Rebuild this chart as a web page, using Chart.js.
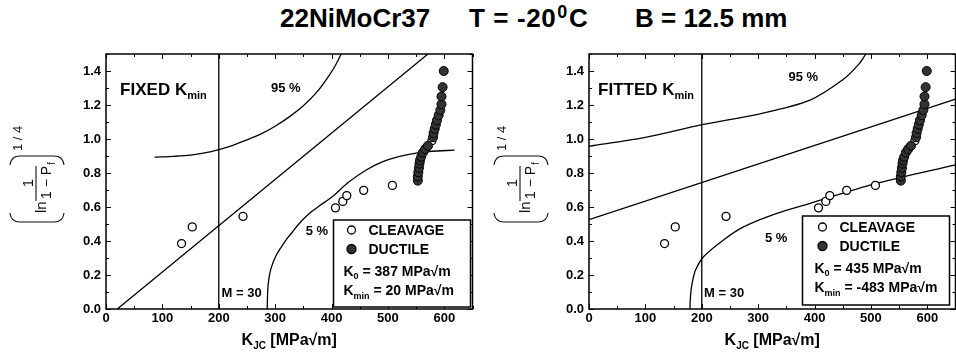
<!DOCTYPE html>
<html>
<head>
<meta charset="utf-8">
<script src="https://cdn.jsdelivr.net/npm/chart.js@4.4.1/dist/chart.umd.min.js"></script>
<style>
  body { margin: 0; background: #fff; }
  #page { position: relative; width: 956px; height: 355px; overflow: hidden; font-family: "Liberation Sans", Arial, sans-serif; }
  .ttl { position: absolute; top: 5px; font-size: 26px; line-height: 26px; font-weight: bold; white-space: pre; color: #000; }
  .ttl sup { font-size: 18px; line-height: 0; vertical-align: 9px; margin: 0 1px; }
  .panel { position: absolute; top: 40px; width: 478px; height: 315px; }
</style>
</head>
<body>
<div id="page">
  <div class="ttl" style="left:280px">22NiMoCr37</div>
  <div class="ttl" style="left:469px;letter-spacing:0.6px">T = -20<sup>0</sup>C</div>
  <div class="ttl" style="left:635px">B = 12.5 mm</div>
  <div class="panel" style="left:0"><canvas id="left" width="478" height="315"></canvas></div>
  <div class="panel" style="left:483px"><canvas id="right" width="478" height="315"></canvas></div>
</div>
<script>
// measured specimens (same set in both panels)
const cleavageK = [134, 153, 243, 407, 420, 427, 457, 508, 578];
const cleavageY = [0.385, 0.483, 0.545, 0.595, 0.633, 0.667, 0.698, 0.727, 0.99];
const ductileK = [553, 553, 554, 555, 556, 557, 559, 562, 566, 571, 580, 581, 583, 585, 587, 590, 593, 595, 595, 597, 599];
const ductileY = [0.755, 0.78, 0.805, 0.83, 0.855, 0.875, 0.895, 0.92, 0.94, 0.96, 1.01, 1.035, 1.06, 1.085, 1.11, 1.14, 1.17, 1.205, 1.25, 1.305, 1.40];

// left panel (fixed Kmin) curves
const fixMedK = [20, 571];
const fixMedY = [0, 1.5];
const fix95K = [86, 120, 150, 175, 200, 225, 250, 275, 300, 325, 350, 375, 395, 408, 417];
const fix95Y = [0.893, 0.898, 0.905, 0.918, 0.938, 0.963, 0.995, 1.03, 1.075, 1.13, 1.195, 1.28, 1.37, 1.44, 1.5];
const fix5K = [286, 286.3, 287, 289, 292, 296, 301, 310, 320, 330, 342, 360, 380, 401, 430, 460, 490, 519, 550, 577, 618];
const fix5Y = [0, 0.06, 0.12, 0.18, 0.23, 0.27, 0.31, 0.36, 0.41, 0.45, 0.5, 0.56, 0.61, 0.66, 0.745, 0.815, 0.865, 0.896, 0.917, 0.928, 0.934];

// right panel (fitted Kmin) curves
const fitMedK = [0, 650];
const fitMedY = [0.526, 1.234];
const fit95K = [0, 98, 203, 303, 391, 450, 479, 491];
const fit95Y = [0.957, 1.008, 1.086, 1.148, 1.227, 1.348, 1.442, 1.5];
const fit5K = [179, 179.5, 181, 184, 189, 203, 238, 274, 332, 391, 508, 650];
const fit5Y = [0, 0.05, 0.11, 0.17, 0.229, 0.307, 0.405, 0.483, 0.561, 0.62, 0.737, 0.848];

// vertical line M = 30
const limitK = [200, 200];
const limitY = [0, 1.5];

const FONT = '"Liberation Sans", Arial, sans-serif';

function pts(xs, ys) {
  return xs.map((x, i) => ({ x: x, y: ys[i] }));
}

function curve(xs, ys) {
  return { data: pts(xs, ys), showLine: true, borderColor: '#000', borderWidth: 1.3, pointRadius: 0, tension: 0.3, order: 3 };
}

// text with a subscript part, returns end x
function subText(ctx, x, y, main, sub, size, subSize, drop, rest) {
  ctx.font = `bold ${size}px ${FONT}`;
  ctx.fillText(main, x, y);
  x += ctx.measureText(main).width;
  ctx.font = `bold ${subSize}px ${FONT}`;
  ctx.fillText(sub, x, y + drop);
  x += ctx.measureText(sub).width;
  if (rest) {
    ctx.font = `bold ${size}px ${FONT}`;
    ctx.fillText(rest, x, y);
    x += ctx.measureText(rest).width;
  }
  return x;
}

// rotated y axis title (ln 1/(1-Pf))^(1/4)
function drawYTitle(ctx, cx, cy) {
  ctx.save();
  ctx.translate(cx, cy);
  ctx.rotate(-Math.PI / 2);
  ctx.fillStyle = '#111';
  ctx.strokeStyle = '#111';
  ctx.lineWidth = 1.1;
  ctx.beginPath();
  ctx.moveTo(-38, -27); ctx.quadraticCurveTo(-47, -26, -47, -17); ctx.lineTo(-47, 17); ctx.quadraticCurveTo(-47, 26, -38, 27);
  ctx.moveTo(10, -27); ctx.quadraticCurveTo(19, -26, 19, -17); ctx.lineTo(19, 17); ctx.quadraticCurveTo(19, 26, 10, 27);
  ctx.moveTo(-26, -1); ctx.lineTo(9, -1);
  ctx.stroke();
  ctx.textBaseline = 'alphabetic';
  ctx.font = `15px ${FONT}`;
  ctx.textAlign = 'left';
  ctx.fillText('ln', -38, 9);
  ctx.textAlign = 'center';
  ctx.fillText('1', -8, -4);
  ctx.textAlign = 'left';
  ctx.font = `14px ${FONT}`;
  const d = '1 \u2212 P';
  ctx.fillText(d, -24, 14);
  const dw = ctx.measureText(d).width;
  ctx.font = `10px ${FONT}`;
  ctx.fillText('f', -24 + dw + 1, 18);
  ctx.font = `13px ${FONT}`;
  ctx.fillText('1 / 4', 24, -15);
  ctx.restore();
}

// frame and inward ticks on all four sides
const frameTicks = {
  id: 'frameTicks',
  afterDatasetsDraw(chart) {
    const { ctx, chartArea: a, scales: { x, y } } = chart;
    ctx.save();
    ctx.strokeStyle = '#000';
    ctx.lineWidth = 1;
    ctx.beginPath();
    for (let v = 0; v <= x.max; v += 50) {
      const px = Math.round(x.getPixelForValue(v)) + 0.5;
      const len = v % 100 === 0 ? 5 : 3;
      ctx.moveTo(px, a.bottom); ctx.lineTo(px, a.bottom - len);
      ctx.moveTo(px, a.top); ctx.lineTo(px, a.top + len);
    }
    for (let i = 0; i <= 15; i++) {
      const py = Math.round(y.getPixelForValue(i / 10)) + 0.5;
      const len = i % 2 === 0 ? 5 : 3;
      ctx.moveTo(a.left, py); ctx.lineTo(a.left + len, py);
      ctx.moveTo(a.right, py); ctx.lineTo(a.right - len, py);
    }
    ctx.stroke();
    ctx.lineWidth = 1.5;
    ctx.strokeRect(a.left, a.top, a.right - a.left, a.bottom - a.top);
    ctx.restore();
  }
};

// labels, legend box and axis titles
const panelText = {
  id: 'panelText',
  afterDraw(chart, args, o) {
    const { ctx, chartArea: a, scales: { x, y } } = chart;
    ctx.save();
    ctx.fillStyle = '#000';
    ctx.textAlign = 'left';
    ctx.textBaseline = 'alphabetic';

    subText(ctx, x.getPixelForValue(o.labelAt[0]), y.getPixelForValue(o.labelAt[1]), o.label + ' K', 'min', 17, 11, 4);

    ctx.font = `bold 13px ${FONT}`;
    ctx.textAlign = 'center';
    ctx.fillText('95 %', x.getPixelForValue(o.p95At[0]), y.getPixelForValue(o.p95At[1]));
    ctx.fillText('5 %', x.getPixelForValue(o.p5At[0]), y.getPixelForValue(o.p5At[1]));
    ctx.textAlign = 'left';
    ctx.fillText('M = 30', x.getPixelForValue(o.mAt[0]), y.getPixelForValue(o.mAt[1]));

    // legend
    const bx = a.right - o.box[0], by = a.bottom - o.box[1], bw = o.box[2], bh = o.box[3];
    ctx.fillStyle = '#fff';
    ctx.fillRect(bx, by, bw, bh);
    ctx.strokeStyle = '#000';
    ctx.lineWidth = 1.5;
    ctx.strokeRect(bx, by, bw, bh);
    ctx.lineWidth = 1.3;
    ctx.beginPath(); ctx.arc(bx + o.m[0], by + o.m[1], 4, 0, Math.PI * 2); ctx.fill(); ctx.stroke();
    ctx.fillStyle = '#333';
    ctx.beginPath(); ctx.arc(bx + o.m[0], by + o.m[1] + 19, 4.5, 0, Math.PI * 2); ctx.fill(); ctx.stroke();
    ctx.fillStyle = '#000';
    ctx.font = `bold 14px ${FONT}`;
    ctx.fillText('CLEAVAGE', bx + o.m[0] + 17, by + o.m[1] + 5);
    ctx.fillText('DUCTILE', bx + o.m[0] + 17, by + o.m[1] + 24);
    subText(ctx, bx + o.m[0] - 8, by + o.m[1] + 46, 'K', '0', 14, 9, 3, ' = ' + o.k0 + ' MPa\u221Am');
    subText(ctx, bx + o.m[0] - 8, by + o.m[1] + 65, 'K', 'min', 14, 9, 4, ' = ' + o.kmin + ' MPa\u221Am');

    // x axis title
    ctx.font = `bold 16px ${FONT}`;
    const w1 = ctx.measureText('K').width, w3 = ctx.measureText(' [MPa\u221Am]').width;
    ctx.font = `bold 10px ${FONT}`;
    const w2 = ctx.measureText('JC').width;
    const cx = (a.left + a.right) / 2 - (w1 + w2 + w3) / 2;
    subText(ctx, cx, a.bottom + 36, 'K', 'JC', 16, 10, 4, ' [MPa\u221Am]');

    drawYTitle(ctx, a.left - o.titleDx, 135);
    ctx.restore();
  }
};

function makePanel(id, curves, text) {
  const datasets = [
    { data: pts(ductileK, ductileY), pointRadius: 4.5, pointBackgroundColor: '#333', pointBorderColor: '#000', pointBorderWidth: 1, showLine: false, order: 1 },
    { data: pts(cleavageK, cleavageY), pointRadius: 4, pointBackgroundColor: '#fff', pointBorderColor: '#000', pointBorderWidth: 1.3, showLine: false, order: 2 }
  ].concat(curves.map(c => curve(c[0], c[1])));

  return new Chart(document.getElementById(id), {
    type: 'scatter',
    data: { datasets: datasets },
    plugins: [frameTicks, panelText],
    options: {
      responsive: false,
      animation: false,
      layout: { padding: { left: 0, top: 14, right: 2, bottom: 0 } },
      plugins: { legend: { display: false }, tooltip: { enabled: false }, panelText: text },
      scales: {
        x: {
          type: 'linear', min: 0, max: 650,
          grid: { display: false, drawTicks: false },
          border: { display: false },
          ticks: { stepSize: 100, includeBounds: false, padding: 2, color: '#000', font: { family: FONT, size: 13, weight: 'bold' } },
          afterFit: s => { s.height = 46; }
        },
        y: {
          type: 'linear', min: 0, max: 1.5,
          grid: { display: false, drawTicks: false },
          border: { display: false },
          ticks: { stepSize: 0.2, includeBounds: false, padding: 5, color: '#000', font: { family: FONT, size: 13, weight: 'bold' }, callback: v => v.toFixed(1) },
          afterFit: s => { s.width = 106; }
        }
      }
    }
  });
}

makePanel('left',
  [[limitK, limitY], [fixMedK, fixMedY], [fix95K, fix95Y], [fix5K, fix5Y]],
  { label: 'FIXED', labelAt: [25, 1.257], p95At: [319, 1.275], p5At: [374, 0.436], mAt: [205, 0.072],
    box: [139, 89, 137, 87], m: [18, 10], k0: '387', kmin: '20', titleDx: 69 });

makePanel('right',
  [[limitK, limitY], [fitMedK, fitMedY], [fit95K, fit95Y], [fit5K, fit5Y]],
  { label: 'FITTED', labelAt: [16, 1.256], p95At: [380, 1.34], p5At: [332, 0.395], mAt: [204, 0.07],
    box: [153, 93, 147, 89], m: [20, 11], k0: '435', kmin: '-483', titleDx: 68 });
</script>
</body>
</html>
